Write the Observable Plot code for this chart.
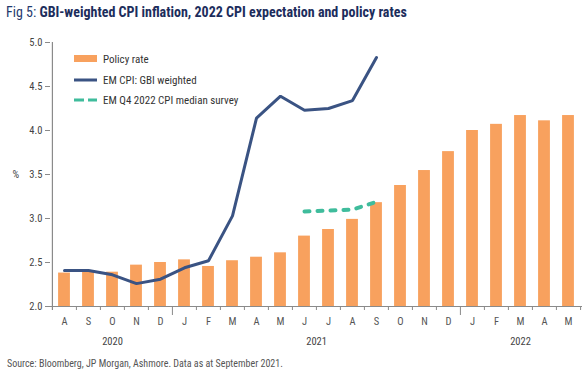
<!DOCTYPE html>
<html><head><meta charset="utf-8">
<script src="https://cdn.jsdelivr.net/npm/d3@7"></script>
<script src="https://cdn.jsdelivr.net/npm/@observablehq/plot@0.6"></script>
<style>
body{margin:0;background:#fff;width:588px;height:380px;overflow:hidden;position:relative;font-family:"Roboto Condensed","Liberation Sans Narrow","DejaVu Sans Condensed",sans-serif;}
#title{position:absolute;left:6px;top:4px;font-size:14px;color:#1f3a6e;white-space:nowrap;font-stretch:condensed;}
#title b{color:#1c2d5c;}
#chart{position:absolute;left:0;top:30px;}
#source{position:absolute;left:7px;top:358px;font-size:10px;color:#555;white-space:nowrap;font-stretch:condensed;}
</style></head>
<body>
<div id="title">Fig 5: <b>GBI-weighted CPI inflation, 2022 CPI expectation and policy rates</b></div>
<div id="chart"></div>
<div id="source">Source: Bloomberg, JP Morgan, Ashmore. Data as at September 2021.</div>
<script>
const months = ["2020-08","2020-09","2020-10","2020-11","2020-12",
  "2021-01","2021-02","2021-03","2021-04","2021-05","2021-06","2021-07","2021-08","2021-09","2021-10","2021-11","2021-12",
  "2022-01","2022-02","2022-03","2022-04","2022-05"];
const monthLabels = ["A","S","O","N","D","J","F","M","A","M","J","J","A","S","O","N","D","J","F","M","A","M"];
const policyRate = [2.38,2.39,2.39,2.47,2.50,2.53,2.455,2.52,2.56,2.61,2.80,2.875,2.99,3.18,3.375,3.545,3.76,4.00,4.07,4.17,4.11,4.17];
const cpiMonths = months.slice(0,14);
const cpiGBI = [2.41,2.41,2.36,2.26,2.31,2.44,2.52,3.03,4.14,4.39,4.23,4.25,4.34,4.83];
const surveyMonths = ["2021-06","2021-07","2021-08","2021-09"];
const surveyCPI = [3.08,3.09,3.10,3.19];
const years = ["2020","2021","2022"];
const yTicks = [2.0,2.5,3.0,3.5,4.0,4.5,5.0];
const seriesNames = ["Policy rate","EM CPI: GBI weighted","EM Q4 2022 CPI median survey"];

const W=588,H=320,mL=50,mR=6,mT=12,mB=44;
const step=(W-mL-mR)/months.length;
const FONT='"Roboto Condensed","Liberation Sans Narrow","DejaVu Sans Condensed",sans-serif';
const labelOf=Object.fromEntries(months.map((m,i)=>[m,monthLabels[i]]));
const bars=months.map((m,i)=>({month:m,rate:policyRate[i]}));
const cpi=cpiMonths.map((m,i)=>({month:m,v:cpiGBI[i]}));
const survey=surveyMonths.map((m,i)=>({month:m,v:surveyCPI[i]}));
const yearBoundaries=months.filter(m=>m.endsWith("-01"));
const yearMarks=years.map(y=>{
  const ms=months.filter(m=>m.startsWith(y));
  const mid=(ms.length-1)/2;
  return {year:y,month:ms[Math.floor(mid)],half:mid%1!==0};
});

const chart=Plot.plot({
  width:W,height:H,marginLeft:mL,marginRight:mR,marginTop:mT,marginBottom:mB,
  style:{fontFamily:FONT,fontSize:"10.5px",color:"#444",background:"white",fontStretch:"condensed"},
  x:{type:"band",domain:months,padding:0,label:null},
  y:{domain:[2,5],label:null},
  marks:[
    Plot.barY(bars,{x:"month",y1:2,y2:"rate",fill:"#f8a15e",insetLeft:(step-12)/2,insetRight:(step-12)/2}),
    Plot.ruleY([2],{stroke:"#8a8a8a",strokeWidth:1.2}),
    Plot.ruleX([months[0]],{x:d=>d,y1:5,y2:2,insetBottom:-4,dx:-step/2,stroke:"#8a8a8a",strokeWidth:1.2}),
    Plot.ruleX(months.filter(m=>!yearBoundaries.includes(m)&&m!==months[0]),{x:d=>d,y1:2,y2:2,insetBottom:-4,dx:-step/2,stroke:"#8a8a8a"}),
    Plot.ruleX(yearBoundaries,{x:d=>d,y1:2,y2:2,insetBottom:-9,dx:-step/2,stroke:"#8a8a8a"}),
    Plot.ruleX([months[months.length-1]],{x:d=>d,y1:2,y2:2,insetBottom:-4,dx:step/2,stroke:"#8a8a8a"}),
    Plot.lineY(cpi,{x:"month",y:"v",stroke:"#3a5383",strokeWidth:3,strokeLinejoin:"miter"}),
    Plot.lineY(survey,{x:"month",y:"v",stroke:"#3fbc9c",strokeWidth:4,strokeDasharray:"5,8",strokeLinecap:"round"}),
    Plot.axisX({tickSize:0,tickPadding:11,tickFormat:d=>labelOf[d],fill:"#555",fontSize:"10.5px",label:null}),
    Plot.axisY({ticks:yTicks,tickFormat:d=>d.toFixed(1),tickSize:5,tickPadding:3,stroke:"#8a8a8a",fill:"#444",label:null}),
    Plot.text(yearMarks.filter(d=>!d.half),{x:"month",y:()=>2,text:"year",dy:35,fill:"#444"}),
    Plot.text(yearMarks.filter(d=>d.half),{x:"month",y:()=>2,text:"year",dy:35,dx:step/2,fill:"#444"}),
    Plot.text(["%"],{frameAnchor:"left",y:()=>3.5,text:d=>d,dx:-38,fill:"#444"})
  ]
});
document.getElementById("chart").appendChild(chart);

// legend
const svg=d3.select(chart);
const lg=svg.append("g").attr("font-family",FONT).attr("font-size","11px").attr("fill","#333").attr("text-anchor","start");
lg.append("rect").attr("x",74).attr("y",25).attr("width",23).attr("height",7).attr("fill","#f8a15e");
lg.append("line").attr("x1",74).attr("x2",97).attr("y1",50).attr("y2",50).attr("stroke","#3a5383").attr("stroke-width",3);
lg.append("line").attr("x1",74).attr("x2",97).attr("y1",70).attr("y2",70).attr("stroke","#3fbc9c").attr("stroke-width",3).attr("stroke-dasharray","10,4");
[29,50,70].forEach((y,i)=>lg.append("text").attr("x",103).attr("y",y).attr("dy","0.35em").attr("font-stretch","condensed").text(seriesNames[i]));
</script>
</body></html>
